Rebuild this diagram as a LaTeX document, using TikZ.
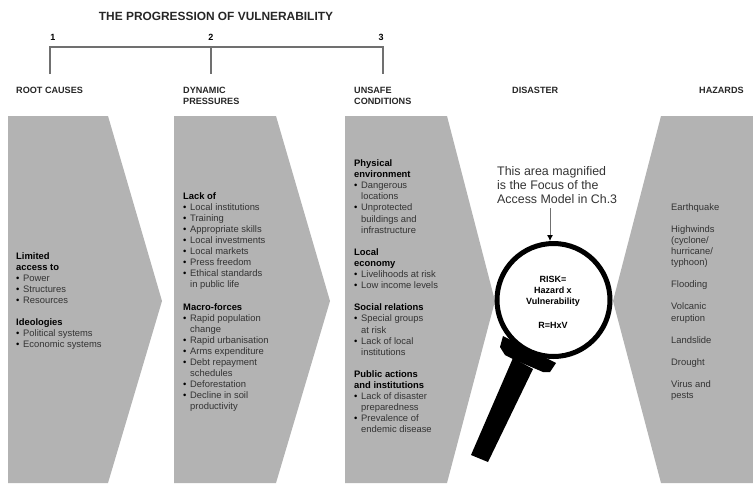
\documentclass[tikz,border=0pt]{standalone}
\usepackage{fontspec}
\setmainfont{Liberation Sans}
\usetikzlibrary{arrows.meta}
\definecolor{panelgrey}{HTML}{B3B3B3}
\definecolor{bodytext}{HTML}{333333}
\definecolor{rulegrey}{HTML}{707070}
\newcommand{\bl}[1]{\makebox[7pt][l]{\color{black}\textbullet}#1}
\newcommand{\ct}[1]{\hspace*{7pt}#1}
\newcommand{\hd}[1]{{\bfseries\color{black}#1}}
\tikzset{
  panel/.style={fill=panelgrey,draw=none},
  blocktext/.style={anchor=north west,inner sep=0pt,align=left,text=bodytext,
    font=\fontsize{9.4}{11.1}\selectfont},
  heading/.style={anchor=north west,inner sep=0pt,align=left,text=black!85,
    font=\fontsize{9.1}{11}\selectfont\bfseries},
  bracket/.style={draw=rulegrey,line width=1.2pt},
  riskline/.style={inner sep=0pt,text=black,font=\fontsize{9}{11}\selectfont\bfseries},
}
\begin{document}
\begin{tikzpicture}[x=1pt,y=-1pt]
\useasboundingbox (0,0) rectangle (753,483);
% panels
\fill[panel] (8,116) -- (108,116) -- (162,301) -- (108,483) -- (8,483) -- cycle;
\fill[panel] (174,116) -- (276,116) -- (330,301) -- (276,483) -- (174,483) -- cycle;
\fill[panel] (345,116) -- (447,116) -- (495,301) -- (447,483) -- (345,483) -- cycle;
\fill[panel] (661,116) -- (753,116) -- (753,483) -- (661,483) -- (613,301) -- cycle;
% title and bracket
\node[inner sep=0pt,text=black!85,font=\fontsize{11.9}{13}\selectfont\bfseries] (title) at (216,16) {THE PROGRESSION OF VULNERABILITY};
\node[inner sep=0pt,font=\fontsize{9}{11}\selectfont\bfseries] (n1) at (53,37) {1};
\node[inner sep=0pt,font=\fontsize{9}{11}\selectfont\bfseries] (n2) at (211,37) {2};
\node[inner sep=0pt,font=\fontsize{9}{11}\selectfont\bfseries] (n3) at (381,37) {3};
\coordinate (b1) at (50,47); \coordinate (b2) at (211,47); \coordinate (b3) at (383,47);
\coordinate (e1) at (50,74); \coordinate (e2) at (211,74); \coordinate (e3) at (383,74);
\draw[bracket] (e1) -- (b1) -- (b3) -- (e3);
\draw[bracket] (b2) -- (e2);
% headings
\node[heading] (h1) at (16,86.5) {ROOT CAUSES};
\node[heading] (h2) at (183,86.5) {DYNAMIC\\PRESSURES};
\node[heading] (h3) at (354,86.5) {UNSAFE\\CONDITIONS};
\node[heading] (h4) at (512,86.5) {DISASTER};
\node[heading] (h5) at (699,86.5) {HAZARDS};
% block texts
\node[blocktext] (t1) at (16,252) {\hd{Limited}\\\hd{access to}\\\bl{Power}\\\bl{Structures}\\\bl{Resources}\\[11.1pt]\hd{Ideologies}\\\bl{Political systems}\\\bl{Economic systems}};
\node[blocktext] (t2) at (183,192) {\hd{Lack of}\\\bl{Local institutions}\\\bl{Training}\\\bl{Appropriate skills}\\\bl{Local investments}\\\bl{Local markets}\\\bl{Press freedom}\\\bl{Ethical standards}\\\ct{in public life}\\[11.1pt]\hd{Macro-forces}\\\bl{Rapid population}\\\ct{change}\\\bl{Rapid urbanisation}\\\bl{Arms expenditure}\\\bl{Debt repayment}\\\ct{schedules}\\\bl{Deforestation}\\\bl{Decline in soil}\\\ct{productivity}};
\node[blocktext] (t3) at (354,159.5) {\hd{Physical}\\\hd{environment}\\\bl{Dangerous}\\\ct{locations}\\\bl{Unprotected}\\\ct{buildings and}\\\ct{infrastructure}\\[11.1pt]\hd{Local}\\\hd{economy}\\\bl{Livelihoods at risk}\\\bl{Low income levels}\\[11.1pt]\hd{Social relations}\\\bl{Special groups}\\\ct{at risk}\\\bl{Lack of local}\\\ct{institutions}\\[11.1pt]\hd{Public actions}\\\hd{and institutions}\\\bl{Lack of disaster}\\\ct{preparedness}\\\bl{Prevalence of}\\\ct{endemic disease}};
\node[blocktext] (t5) at (671,203) {Earthquake\\[11.1pt]Highwinds\\(cyclone/\\hurricane/\\typhoon)\\[11.1pt]Flooding\\[11.1pt]Volcanic\\eruption\\[11.1pt]Landslide\\[11.1pt]Drought\\[11.1pt]Virus and\\pests};
% callout
\node[anchor=north west,inner sep=0pt,align=left,text=bodytext,font=\fontsize{12.4}{14}\selectfont] (callout) at (497,166) {This area magnified\\is the Focus of the\\Access Model in Ch.3};
% magnifier
\fill[black] (513,358) -- (533,369) -- (488,462) -- (471,455) -- cycle;
\fill[black] (503,336) -- (500,347) -- (505,355) -- (515,360) -- (543,372) -- (550,372) -- (556,363) -- cycle;
\node[circle,draw=black,fill=white,line width=5pt,minimum size=113pt,inner sep=0pt] (lens) at (553.5,300) {};
\coordinate (calloutfoot) at (550,208);
\draw[draw=rulegrey,line width=.9pt,-{Latex[length=6pt,width=6pt,color=black]}] (calloutfoot) -- (lens.north -| calloutfoot);
\node[riskline] (r1) at (553,279) {RISK=};
\node[riskline] (r2) at (553,290) {Hazard x};
\node[riskline] (r3) at (553,302) {Vulnerability};
\node[riskline] (r4) at (553,325) {R=HxV};
\end{tikzpicture}
\end{document}
